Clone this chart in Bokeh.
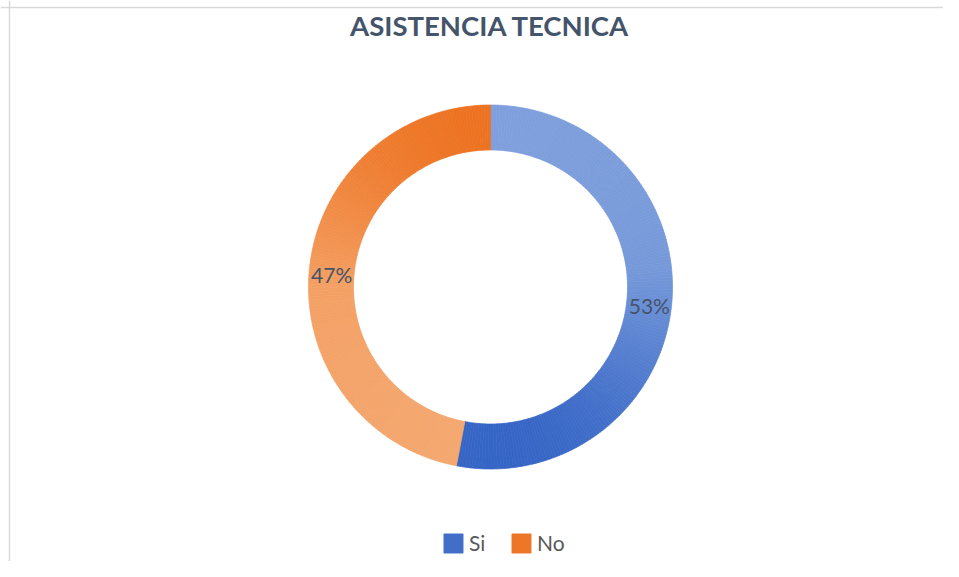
import numpy as np
from bokeh.plotting import figure
from bokeh.models import ColumnDataSource, Label, Legend, LegendItem, Span, Range1d
from bokeh.embed import file_html
from bokeh.resources import INLINE

# ---- data ----
title_text = "ASISTENCIA TECNICA"
categories = ["Si", "No"]
values = [53, 47]
pct_labels = ["53%", "47%"]

# colour stops (f = 0 at top of ring, 1 at bottom)
grad_stops = {
    "Si": [(0.0, "#80a0dc"), (0.45, "#7699d9"), (1.0, "#2d5ec3")],
    "No": [(0.0, "#ec6c18"), (0.5, "#f4a064"), (1.0, "#f4a870")],
}

W, H = 943, 561
p = figure(width=W, height=H, output_backend="svg", toolbar_location=None,
           x_range=Range1d(0, W), y_range=Range1d(0, H), min_border=0,
           outline_line_color=None, background_fill_color="white",
           border_fill_color="white")
p.axis.visible = False
p.grid.visible = False

cx, cy = 490.0, 274.5
R_out, R_in = 182.0, 137.0


def hex2rgb(h):
    h = h.lstrip("#")
    return np.array([int(h[i:i + 2], 16) for i in (0, 2, 4)], dtype=float)


def interp(stops, f):
    f = min(max(f, 0.0), 1.0)
    for (f0, c0), (f1, c1) in zip(stops[:-1], stops[1:]):
        if f <= f1:
            t = (f - f0) / (f1 - f0) if f1 > f0 else 0
            c = hex2rgb(c0) * (1 - t) + hex2rgb(c1) * t
            return "#%02x%02x%02x" % tuple(int(round(v)) for v in c)
    return stops[-1][1]


total = float(sum(values))
starts, ends, colors, cats = [], [], [], []
legend_idx = {}
label_pos = []
cum = 0.0
for cat, v in zip(categories, values):
    frac = v / total
    a0 = np.pi / 2 - 2 * np.pi * cum
    a1 = a0 - 2 * np.pi * frac
    n = max(int(round(frac * 360)), 2)
    edges = np.linspace(a0, a1, n + 1)
    best = None
    target = 0.85 if cat == "Si" else 0.1
    for s, e in zip(edges[:-1], edges[1:]):
        mid = 0.5 * (s + e)
        f = (R_out - np.sin(mid) * (R_out + R_in) / 2) / (2 * R_out)
        col = interp(grad_stops[cat], f)
        starts.append(s)
        ends.append(e)
        colors.append(col)
        cats.append(cat)
        idx = len(starts) - 1
        if best is None or abs(f - target) < best[0]:
            best = (abs(f - target), idx)
    legend_idx[cat] = best[1]
    label_pos.append(0.5 * (a0 + a1))
    cum += frac

src = ColumnDataSource(dict(start=starts, end=ends, color=colors, cat=cats))
r = p.annular_wedge(x=cx, y=cy, inner_radius=R_in, outer_radius=R_out,
                    start_angle="start", end_angle="end", direction="clock",
                    fill_color="color", line_color="color", line_width=0.7,
                    source=src)

# percentage labels
Rm = (R_in + R_out) / 2
for txt, a in zip(pct_labels, label_pos):
    p.add_layout(Label(x=cx + Rm * np.cos(a), y=cy + Rm * np.sin(a) - 3, text=txt,
                       text_align="center", text_baseline="middle",
                       text_font="Lato", text_font_size="21px",
                       text_color="#44546a"))

# title
p.add_layout(Label(x=489.5, y=H - 25, text=title_text, text_align="center",
                   text_baseline="alphabetic", text_font="Lato",
                   text_font_style="bold", text_font_size="27.5px",
                   text_color="#44546a"))

# legend
items = [LegendItem(label=c, renderers=[r], index=legend_idx[c]) for c in categories]
legend = Legend(items=items, orientation="horizontal", location=(441, 6),
                padding=0, margin=0, spacing=20, glyph_width=24, glyph_height=24,
                label_standoff=4, label_text_font="Lato",
                label_text_font_size="21px", label_text_color="#595959",
                background_fill_alpha=0, border_line_color=None)
p.add_layout(legend, "center")

# chart border (top and left)
p.add_layout(Span(location=H - 7, dimension="width", line_color="#d9d9d9", line_width=1.5))
p.add_layout(Span(location=9, dimension="height", line_color="#d9d9d9", line_width=1.5))

open("out.html", "w").write(file_html(p, INLINE))
